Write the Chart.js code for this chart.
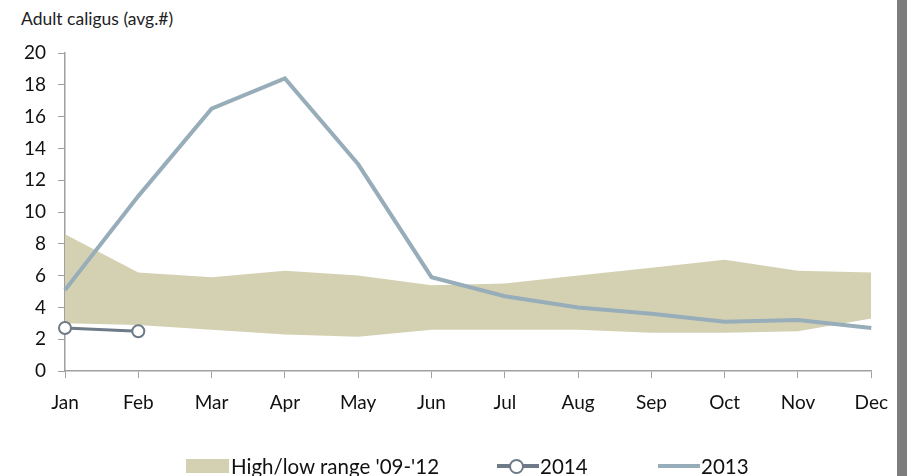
<!DOCTYPE html>
<html>
<head>
<meta charset="utf-8">
<script src="https://cdn.jsdelivr.net/npm/chart.js@4"></script>
<style>
  body { margin: 0; background: #fff; width: 907px; height: 476px; overflow: hidden; position: relative; font-family: Lato, "Open Sans", sans-serif; }
  #title { position: absolute; left: 21px; top: 8px; font-size: 17.5px; color: #222; }
  #wrap { position: absolute; left: 0; top: 0; width: 901px; height: 476px; }
  #edge { position: absolute; left: 897px; top: 0; width: 10px; height: 476px; background: #7d7d7d; z-index: 2; }
  .leg { position: absolute; top: 454px; font-size: 20.5px; color: #111; white-space: nowrap; line-height: 24px; }
  .sw { position: absolute; }
</style>
</head>
<body>
<div id="title">Adult caligus (avg.#)</div>
<div id="wrap"><canvas id="c"></canvas></div>
<div id="edge"></div>

<div class="sw" style="left:186px;top:459px;width:43px;height:14px;background:#d4d1b2;"></div>
<div class="leg" style="left:231px;">High/low range '09-'12</div>
<div class="sw" style="left:497px;top:464px;width:42px;height:4px;background:#6e7a88;"></div>
<div class="sw" style="left:509px;top:459px;width:11px;height:11px;border:2px solid #6e7a88;border-radius:50%;background:#fff;"></div>
<div class="leg" style="left:540px;">2014</div>
<div class="sw" style="left:658px;top:464px;width:42px;height:4px;background:#97adb9;"></div>
<div class="leg" style="left:701px;">2013</div>

<script>
const months = ['Jan', 'Feb', 'Mar', 'Apr', 'May', 'Jun', 'Jul', 'Aug', 'Sep', 'Oct', 'Nov', 'Dec'];
const rangeLow = [3.0, 2.9, 2.6, 2.3, 2.15, 2.6, 2.6, 2.6, 2.4, 2.4, 2.5, 3.3];
const rangeHigh = [8.6, 6.2, 5.9, 6.3, 6.0, 5.4, 5.5, 6.0, 6.5, 7.0, 6.3, 6.2];
const y2014 = [2.7, 2.5, null, null, null, null, null, null, null, null, null, null];
const y2013 = [5.1, 11.0, 16.5, 18.4, 13.0, 5.9, 4.7, 4.0, 3.6, 3.1, 3.2, 2.7];

const axisGray = '#a0a0a0';
const tickFont = { family: 'Lato, "Open Sans", sans-serif', size: 19 };

new Chart(document.getElementById('c'), {
    type: 'line',
    data: {
        labels: months,
        datasets: [
            { label: 'low', data: rangeLow, borderWidth: 0, pointRadius: 0, fill: false, tension: 0, order: 4 },
            { label: "High/low range '09-'12", data: rangeHigh, borderWidth: 0, pointRadius: 0,
              backgroundColor: '#d4d1b2', fill: '-1', tension: 0, order: 3 },
            { label: '2013', data: y2013, borderColor: '#97adb9', borderWidth: 4, pointRadius: 0,
              fill: false, tension: 0, order: 2 },
            { label: '2014', data: y2014, borderColor: '#6e7a88', borderWidth: 3, pointRadius: 6,
              pointBorderWidth: 2, pointBackgroundColor: '#fff', pointBorderColor: '#6e7a88',
              fill: false, tension: 0, order: 1, spanGaps: false }
        ]
    },
    options: {
        responsive: true,
        maintainAspectRatio: false,
        animation: false,
        layout: { padding: { top: 53, right: 24, left: 0, bottom: 0 } },
        plugins: { legend: { display: false }, tooltip: { enabled: false } },
        scales: {
            x: {
                offset: false,
                grid: { display: true, drawOnChartArea: false, color: axisGray, tickLength: 7 },
                border: { color: axisGray, width: 1.5 },
                ticks: { color: '#111', font: tickFont, padding: 13, maxRotation: 0 },
                afterFit: (s) => { s.height = 105; }
            },
            y: {
                min: 0, max: 20,
                grid: { display: true, drawOnChartArea: false, color: axisGray, tickLength: 7 },
                border: { color: axisGray, width: 1.5 },
                ticks: { stepSize: 2, color: '#111', font: tickFont, padding: 12 },
                afterFit: (s) => { s.width = 65; }
            }
        }
    }
});
</script>
</body>
</html>
